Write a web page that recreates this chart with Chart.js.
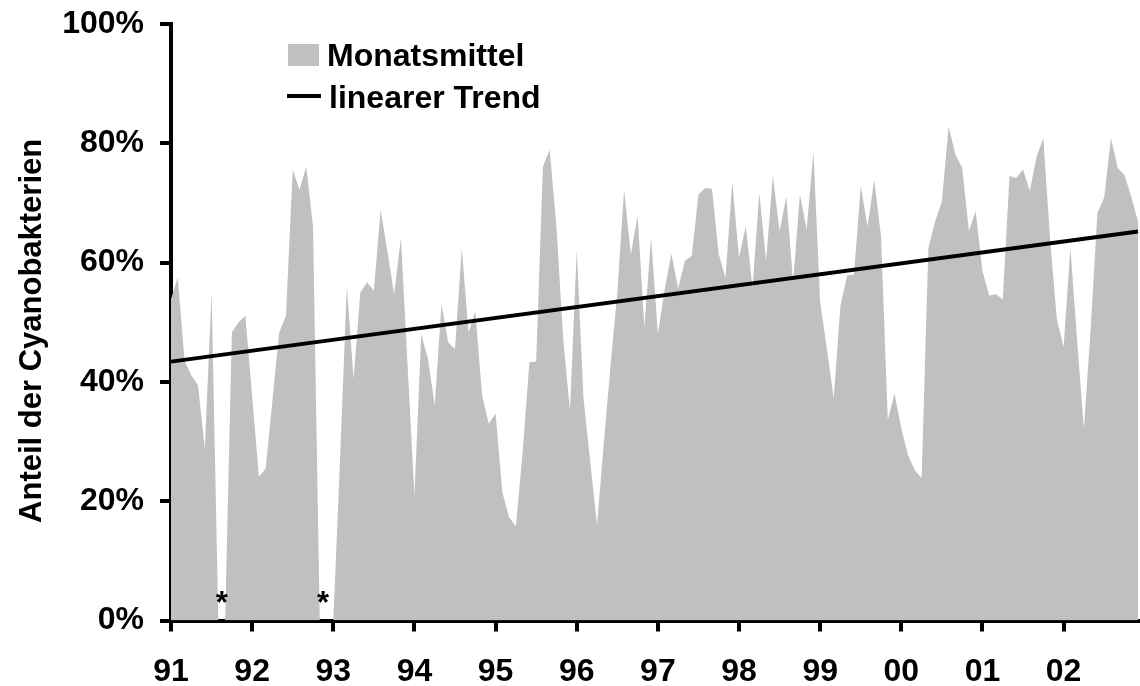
<!DOCTYPE html>
<html>
<head>
<meta charset="utf-8">
<script src="https://cdn.jsdelivr.net/npm/chart.js@4.4.1/dist/chart.umd.min.js"></script>
<style>
  html, body { margin: 0; padding: 0; background: #fff; }
  #wrap { width: 1140px; height: 686px; position: relative; }
</style>
</head>
<body>
<div id="wrap"><canvas id="cyanoChart"></canvas></div>
<script>
// tick labels on the x axis (one per January)
const years = ['91', '92', '93', '94', '95', '96', '97', '98', '99', '00', '01', '02'];

// monthly means, share of cyanobacteria in % (Jan..Dec, one row per year)
const monatsmittel = [
    53.9, 57.5, 43.6, 41.1, 39.4, 28.8, 55.0, 0, 0, 48.3, 50.0, 51.1,        // 91
    37.6, 24.1, 25.5, 36.9, 48.3, 51.1, 75.6, 72.2, 76.1, 66.1, 0, 0,        // 92
    0, 27.0, 56.1, 40.5, 55.0, 56.7, 55.3, 68.9, 61.9, 54.7, 64.2, 42.5,     // 93
    21.0, 48.0, 43.9, 36.1, 53.0, 46.6, 45.5, 62.5, 48.3, 51.9, 37.7, 33.0,  // 94
    34.7, 21.5, 17.3, 15.8, 28.3, 43.3, 43.4, 76.1, 78.9, 66.1, 47.2, 35.2,  // 95
    62.2, 37.2, 26.6, 16.0, 29.7, 42.7, 55.0, 72.2, 61.4, 67.8, 49.2, 64.2,  // 96
    48.0, 55.5, 61.5, 55.7, 60.3, 61.1, 71.4, 72.5, 72.4, 61.4, 57.5, 73.6,  // 97
    60.8, 66.1, 55.8, 71.7, 60.3, 74.5, 65.3, 71.1, 56.7, 71.4, 65.6, 78.6,  // 98
    53.3, 45.5, 37.2, 52.8, 57.9, 58.0, 72.8, 66.1, 73.9, 64.4, 33.6, 38.0,  // 99
    32.2, 27.7, 25.2, 23.9, 62.5, 66.9, 70.3, 82.8, 78.1, 75.9, 65.3, 68.6,  // 00
    58.6, 54.5, 54.7, 53.8, 74.5, 74.2, 75.6, 72.0, 77.8, 80.9, 63.9, 50.5,  // 01
    45.8, 62.5, 47.0, 32.1, 49.0, 68.3, 70.9, 80.9, 75.9, 74.7, 71.1, 66.9   // 02
];

// linear trend, value at first and last month
const trendStart = 43.4;
const trendEnd = 65.2;

// months without data (marked with *)
const missingMonths = [[7, 8], [22, 23]];

// y axis ticks
const yTicks = [0, 20, 40, 60, 80, 100];

const months = [];
years.forEach(y => {
    for (let m = 1; m <= 12; m++) months.push(String(m).padStart(2, '0') + '.' + y);
});
const trend = months.map((_, i) => (i === 0 ? trendStart : i === months.length - 1 ? trendEnd : null));

const FONT = 'Arial, "Liberation Sans", sans-serif';
Chart.defaults.font.family = FONT;
Chart.defaults.font.weight = 'bold';
Chart.defaults.font.size = 32;
Chart.defaults.color = '#000';

// legend drawn inside the plot, top left
const innerLegend = {
    id: 'innerLegend',
    afterDraw(chart) {
        const { ctx, chartArea } = chart;
        const x = chartArea.left;
        const y = chartArea.top;
        ctx.save();
        ctx.font = 'bold 32px ' + FONT;
        ctx.textBaseline = 'alphabetic';
        const area = chart.data.datasets[1];
        ctx.fillStyle = area.backgroundColor;
        ctx.fillRect(x + 117, y + 20, 31, 22);
        ctx.fillStyle = '#000';
        ctx.fillText(area.label, x + 156, y + 42);
        const line = chart.data.datasets[0];
        ctx.strokeStyle = line.borderColor;
        ctx.lineWidth = 4;
        ctx.beginPath();
        ctx.moveTo(x + 116, y + 72);
        ctx.lineTo(x + 150, y + 72);
        ctx.stroke();
        ctx.fillText(line.label, x + 158, y + 84);
        ctx.restore();
    }
};

// asterisks over the missing months
const asterisks = {
    id: 'asterisks',
    afterDatasetsDraw(chart) {
        const { ctx, scales } = chart;
        ctx.save();
        ctx.font = 'bold 31px ' + FONT;
        ctx.fillStyle = '#000';
        ctx.textAlign = 'center';
        ctx.textBaseline = 'alphabetic';
        const base = scales.y.getPixelForValue(0);
        missingMonths.forEach(([a, b]) => {
            const px = (scales.x.getPixelForValue(a) + scales.x.getPixelForValue(b)) / 2;
            ctx.fillText('*', px, base - 8);
        });
        ctx.restore();
    }
};

const ctx = document.getElementById('cyanoChart').getContext('2d');
new Chart(ctx, {
    type: 'line',
    data: {
        labels: months,
        datasets: [
            {
                label: 'linearer Trend',
                data: trend,
                borderColor: '#000',
                borderWidth: 4,
                pointRadius: 0,
                spanGaps: true,
                fill: false,
                order: 1
            },
            {
                label: 'Monatsmittel',
                data: monatsmittel,
                backgroundColor: '#c0c0c0',
                borderColor: 'rgba(0,0,0,0)',
                borderWidth: 1,
                pointRadius: 0,
                tension: 0,
                fill: 'origin',
                order: 2
            }
        ]
    },
    options: {
        responsive: true,
        maintainAspectRatio: false,
        animation: false,
        layout: { padding: { top: 24, right: 2, left: 0, bottom: 0 } },
        plugins: {
            legend: { display: false },
            tooltip: { enabled: false }
        },
        scales: {
            x: {
                z: 1,
                offset: false,
                grid: { drawOnChartArea: false, drawTicks: true, tickLength: 11, lineWidth: 4, color: '#000' },
                border: { display: true, width: 4, color: '#000' },
                ticks: {
                    autoSkip: false,
                    maxRotation: 0,
                    padding: 21,
                    callback: (v, i) => (i % 12 === 0 ? years[i / 12] : null)
                },
                afterFit: s => {
                    s.height = 65.5;
                    s.paddingLeft = 0;
                    s.paddingRight = 0;
                }
            },
            y: {
                z: 1,
                min: 0,
                max: 100,
                afterBuildTicks: s => { s.ticks = yTicks.map(v => ({ value: v })); },
                grid: { drawOnChartArea: false, drawTicks: true, tickLength: 11, lineWidth: 4, color: '#000' },
                border: { display: true, width: 4, color: '#000' },
                ticks: { padding: 16, callback: v => v + '%' },
                title: {
                    display: true,
                    // trailing spaces push the centred title a little lower, as in the original
                    text: 'Anteil der Cyanobakterien  ',
                    font: { size: 31, weight: 'bold' },
                    padding: { top: 14, bottom: 0 }
                },
                afterFit: s => {
                    s.width = 171;
                    s.paddingTop = 0;
                    s.paddingBottom = 0;
                }
            }
        }
    },
    plugins: [asterisks, innerLegend]
});
</script>
</body>
</html>
